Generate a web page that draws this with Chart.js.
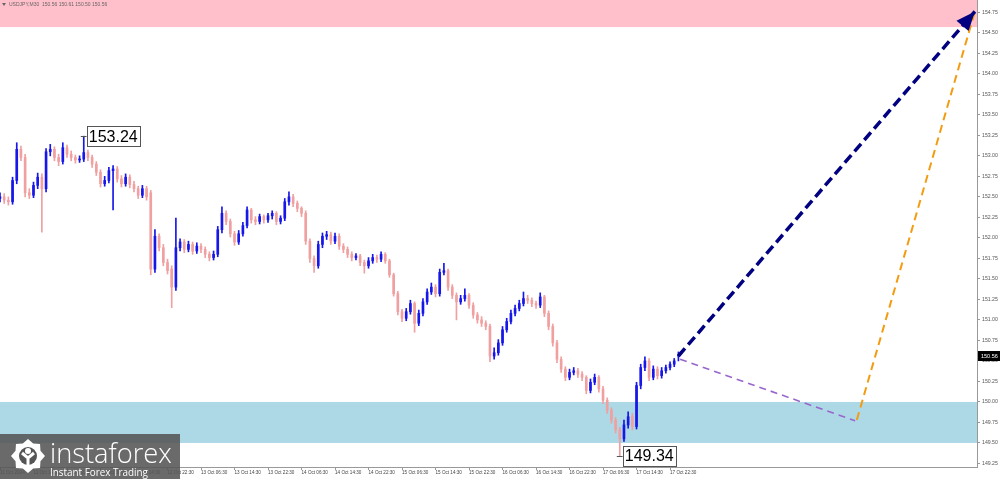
<!DOCTYPE html>
<html>
<head>
<meta charset="utf-8">
<script src="https://cdn.jsdelivr.net/npm/chart.js@4.4.1/dist/chart.umd.min.js"></script>
<style>
  html, body { margin: 0; padding: 0; background: #fff; }
  #wrap { width: 1000px; height: 479px; position: relative; }
</style>
</head>
<body>
<div id="wrap"><canvas id="chart"></canvas></div>
<script>
// USDJPY M30 candles (bar index 0 = 11 Oct 06:30)
const opens = [
  152.48,152.50,152.46,152.44,152.70,153.08,152.98,152.55,152.52,152.64,
  152.74,152.60,153.05,153.08,152.98,152.93,153.10,153.02,152.98,152.95,
  152.96,153.04,152.98,152.90,152.80,152.66,152.70,152.82,152.84,152.72,
  152.66,152.74,152.65,152.60,152.52,152.60,152.55,151.62,152.02,151.88,
  151.70,151.62,151.40,151.88,151.95,151.86,151.92,151.84,151.90,151.86,
  151.80,151.76,151.80,152.10,152.30,152.20,152.05,151.95,152.05,152.15,
  152.34,152.22,152.20,152.26,152.22,152.27,152.30,152.20,152.24,152.44,
  152.50,152.42,152.36,152.30,151.96,151.75,151.66,151.92,152.02,152.04,
  151.96,152.02,151.90,151.86,151.80,151.76,151.78,151.70,151.66,151.72,
  151.76,151.74,151.80,151.72,151.55,151.32,151.10,151.02,151.10,151.20,
  150.96,151.08,151.22,151.34,151.40,151.32,151.58,151.60,151.40,151.30,
  151.22,151.26,151.30,151.18,151.06,151.00,150.96,150.92,150.56,150.60,
  150.72,150.88,150.98,151.08,151.14,151.20,151.26,151.24,151.20,151.18,
  151.28,151.08,150.92,150.72,150.52,150.40,150.30,150.36,150.38,150.34,
  150.30,150.14,150.24,150.30,150.16,150.02,149.90,149.78,149.66,149.55,
  149.72,149.82,149.70,150.20,150.42,150.50,150.30,150.40,150.32,150.38,
  150.42,150.46,150.56
];
const highs = [
  152.55,152.54,152.50,152.74,153.16,153.12,153.02,152.60,152.68,152.79,
  152.78,153.09,153.14,153.11,153.02,153.16,153.13,153.06,153.01,153.00,
  153.24,153.07,153.01,152.93,152.83,152.75,152.86,152.88,152.87,152.76,
  152.78,152.77,152.69,152.63,152.64,152.63,152.58,152.10,152.05,151.92,
  151.74,151.66,152.24,151.99,151.98,151.96,151.95,151.94,151.93,151.89,
  151.83,151.84,152.14,152.38,152.33,152.23,152.08,152.09,152.19,152.38,
  152.36,152.26,152.29,152.28,152.30,152.33,152.32,152.27,152.48,152.56,
  152.53,152.45,152.38,152.33,151.99,151.78,151.96,152.06,152.08,152.07,
  152.06,152.05,151.93,151.89,151.83,151.81,151.80,151.73,151.76,151.80,
  151.79,151.83,151.82,151.74,151.57,151.35,151.13,151.14,151.24,151.22,
  151.12,151.26,151.38,151.45,151.43,151.62,151.69,151.62,151.43,151.33,
  151.30,151.38,151.32,151.21,151.09,151.04,150.99,150.95,150.66,150.76,
  150.92,151.02,151.12,151.18,151.24,151.34,151.30,151.27,151.23,151.33,
  151.30,151.11,150.95,150.75,150.55,150.43,150.40,150.42,150.41,150.37,
  150.32,150.28,150.34,150.32,150.19,150.05,149.93,149.81,149.69,149.78,
  149.88,149.86,150.24,150.46,150.55,150.53,150.44,150.43,150.42,150.45,
  150.49,150.53,150.61
];
const lows = [
  152.44,152.42,152.40,152.41,152.66,152.94,152.50,152.48,152.49,152.60,
  152.07,152.56,153.00,152.94,152.88,152.90,152.98,152.94,152.91,152.92,
  152.93,152.94,152.86,152.76,152.62,152.63,152.67,152.34,152.68,152.62,
  152.63,152.61,152.56,152.48,152.49,152.46,151.55,151.58,151.84,151.66,
  151.56,151.15,151.36,151.84,151.82,151.83,151.80,151.81,151.82,151.76,
  151.72,151.73,151.77,152.06,152.16,152.01,151.91,151.92,152.02,152.12,
  152.18,152.16,152.17,152.18,152.19,152.23,152.16,152.17,152.21,152.40,
  152.38,152.32,152.26,151.92,151.70,151.58,151.63,151.88,151.98,151.92,
  151.93,151.86,151.82,151.76,151.72,151.73,151.66,151.57,151.63,151.69,
  151.70,151.71,151.69,151.52,151.29,151.06,150.98,150.99,151.07,150.85,
  150.93,151.05,151.19,151.31,151.28,151.29,151.55,151.36,151.26,151.00,
  151.19,151.23,151.14,151.02,150.96,150.92,150.88,150.49,150.52,150.57,
  150.69,150.85,150.95,151.05,151.11,151.17,151.20,151.16,151.14,151.15,
  151.04,150.88,150.68,150.48,150.36,150.26,150.27,150.33,150.30,150.26,
  150.10,150.11,150.21,150.12,149.98,149.86,149.74,149.62,149.34,149.52,
  149.68,149.66,149.67,150.16,150.38,150.26,150.27,150.28,150.29,150.35,
  150.39,150.43,150.50
];
const closes = [
  152.50,152.46,152.44,152.70,153.08,152.98,152.55,152.52,152.64,152.74,
  152.60,153.05,153.08,152.98,152.93,153.10,153.02,152.98,152.95,152.96,
  153.04,152.98,152.90,152.80,152.66,152.70,152.82,152.84,152.72,152.66,
  152.74,152.65,152.60,152.52,152.60,152.50,151.62,152.02,151.88,151.70,
  151.60,151.40,151.88,151.95,151.86,151.92,151.84,151.90,151.86,151.80,
  151.76,151.80,152.10,152.30,152.20,152.05,151.95,152.05,152.15,152.34,
  152.22,152.20,152.26,152.22,152.27,152.30,152.20,152.24,152.44,152.50,
  152.42,152.36,152.30,151.96,151.75,151.66,151.92,152.02,152.04,151.96,
  152.02,151.90,151.86,151.80,151.76,151.78,151.70,151.66,151.72,151.76,
  151.74,151.80,151.72,151.55,151.32,151.10,151.02,151.10,151.20,150.96,
  151.08,151.22,151.34,151.40,151.32,151.58,151.60,151.40,151.30,151.22,
  151.26,151.30,151.18,151.06,151.00,150.96,150.92,150.56,150.60,150.72,
  150.88,150.98,151.08,151.14,151.20,151.26,151.24,151.20,151.18,151.28,
  151.08,150.92,150.72,150.52,150.40,150.30,150.36,150.38,150.34,150.30,
  150.14,150.24,150.30,150.16,150.02,149.90,149.78,149.66,149.55,149.72,
  149.82,149.70,150.20,150.42,150.50,150.30,150.40,150.32,150.38,150.42,
  150.46,150.50,150.56
];

const tickLabels = [
  '11 Oct 2024','11 Oct 14:30','11 Oct 22:30',
  '12 Oct 06:30','12 Oct 14:30','12 Oct 22:30',
  '13 Oct 06:30','13 Oct 14:30','13 Oct 22:30',
  '14 Oct 06:30','14 Oct 14:30','14 Oct 22:30',
  '15 Oct 06:30','15 Oct 14:30','15 Oct 22:30',
  '16 Oct 06:30','16 Oct 14:30','16 Oct 22:30',
  '17 Oct 06:30','17 Oct 14:30','17 Oct 22:30'
];
const barsPerLabel = 8;
const priceTicks = [149.25,149.50,149.75,150.00,150.25,150.50,150.75,151.00,151.25,151.50,151.75,
  152.00,152.25,152.50,152.75,153.00,153.25,153.50,153.75,154.00,154.25,154.50,154.75];

// zones
const resistanceZone = [154.57, 155.5];
const supportZone = [149.50, 150.00];

// forecast paths (x in bars, y in price)
const mainX = [162, 232.8];
const mainY = [150.56, 154.76];
const pullX = [162.4, 204.2];
const pullY = [150.52, 149.77];
const rallyX = [204.6, 232.8];
const rallyY = [149.78, 154.76];

const header = 'USDJPY,M30  150.56 150.61 150.50 150.56';

const bull = '#1717e8';
const bear = '#f0a0a0';
const candleColor = c => closes[c.dataIndex] >= opens[c.dataIndex] ? bull : bear;
const idx = closes.map((_, i) => i);

const zonesPlugin = {
  id: 'zones',
  beforeDatasetsDraw(chart) {
    const { ctx, chartArea: a, scales: { y } } = chart;
    ctx.save();
    const top1 = Math.max(a.top, y.getPixelForValue(resistanceZone[1]));
    ctx.fillStyle = '#ffc0cb';
    ctx.fillRect(a.left, top1, a.width, y.getPixelForValue(resistanceZone[0]) - top1);
    const top2 = y.getPixelForValue(supportZone[1]);
    ctx.fillStyle = '#add8e6';
    ctx.fillRect(a.left, top2, a.width, y.getPixelForValue(supportZone[0]) - top2);
    ctx.restore();
  }
};

function priceBox(ctx, x, y, text) {
  ctx.font = '16px "Liberation Sans"';
  const w = ctx.measureText(text).width + 4;
  ctx.strokeStyle = '#555';
  ctx.lineWidth = 1;
  ctx.beginPath();
  ctx.moveTo(x - 3, Math.round(y) + 0.5);
  ctx.lineTo(x + 3, Math.round(y) + 0.5);
  ctx.stroke();
  ctx.fillStyle = '#fff';
  ctx.fillRect(x + 3, y - 10, w, 20);
  ctx.strokeRect(Math.round(x + 3) + 0.5, Math.round(y - 10) + 0.5, Math.round(w), 20);
  ctx.fillStyle = '#000';
  ctx.textBaseline = 'middle';
  ctx.textAlign = 'left';
  ctx.fillText(text, x + 5, y + 1);
}

const overlayPlugin = {
  id: 'overlay',
  afterDatasetsDraw(chart) {
    const { ctx, scales: { x, y } } = chart;
    ctx.save();
    // arrow head on main forecast
    const pts = chart.getDatasetMeta(2).data;
    const p0 = pts[0], p1 = pts[1];
    const ang = Math.atan2(p1.y - p0.y, p1.x - p0.x);
    const L = 19, W = 8;
    const bx = p1.x - L * Math.cos(ang), by = p1.y - L * Math.sin(ang);
    ctx.fillStyle = '#000080';
    ctx.beginPath();
    ctx.moveTo(p1.x, p1.y);
    ctx.lineTo(bx + W * Math.sin(ang), by - W * Math.cos(ang));
    ctx.lineTo(bx - W * Math.sin(ang), by + W * Math.cos(ang));
    ctx.closePath();
    ctx.fill();

    // high / low labels
    const hi = highs.indexOf(Math.max(...highs));
    const lo = lows.indexOf(Math.min(...lows));
    priceBox(ctx, x.getPixelForValue(hi), y.getPixelForValue(highs[hi]), highs[hi].toFixed(2));
    priceBox(ctx, x.getPixelForValue(lo), y.getPixelForValue(lows[lo]), lows[lo].toFixed(2));
    ctx.restore();
  },
  afterDraw(chart) {
    const { ctx, chartArea: a, scales: { y } } = chart;
    ctx.save();
    // header
    ctx.fillStyle = '#666';
    ctx.beginPath();
    ctx.moveTo(2, 3); ctx.lineTo(6, 3); ctx.lineTo(4, 6); ctx.closePath(); ctx.fill();
    ctx.font = '5px "Liberation Sans"';
    ctx.textBaseline = 'middle';
    ctx.fillText(header, 9, 5);

    // current price tag
    const last = closes[closes.length - 1];
    const py = y.getPixelForValue(last);
    ctx.fillStyle = '#000';
    ctx.fillRect(a.right + 1, py - 5, chart.width - a.right - 1, 10);
    ctx.fillStyle = '#fff';
    ctx.font = '5.5px "Liberation Sans"';
    ctx.fillText(last.toFixed(2), a.right + 4, py);

    // watermark
    ctx.fillStyle = 'rgba(85,85,85,0.88)';
    ctx.fillRect(0, 434, 180, 45);
    const cx = 28, cy = 456;
    ctx.fillStyle = '#fff';
    ctx.beginPath();
    for (let k = 0; k < 16; k++) {
      const r = k % 2 === 0 ? 17 : 13.5;
      const t = k * Math.PI / 8;
      ctx.lineTo(cx + r * Math.cos(t), cy + r * Math.sin(t));
    }
    ctx.closePath();
    ctx.fill();
    ctx.fillStyle = 'rgb(85,85,85)';
    ctx.beginPath(); ctx.arc(cx, cy, 9, 0, Math.PI * 2); ctx.fill();
    ctx.fillStyle = '#fff';
    ctx.beginPath(); ctx.arc(cx, cy - 5, 3, 0, Math.PI * 2); ctx.fill();
    ctx.strokeStyle = '#fff';
    ctx.lineWidth = 3;
    ctx.beginPath();
    ctx.moveTo(cx - 6, cy - 3); ctx.lineTo(cx, cy + 2); ctx.lineTo(cx + 6, cy - 3);
    ctx.moveTo(cx, cy + 2); ctx.lineTo(cx, cy + 14);
    ctx.stroke();

    ctx.fillStyle = '#fff';
    ctx.textBaseline = 'alphabetic';
    ctx.font = '300 32px "Open Sans"';
    let s = 32 * 122 / ctx.measureText('instaforex').width;
    ctx.font = `300 ${s}px "Open Sans"`;
    ctx.fillText('instaforex', 50, 463);
    ctx.font = '12px "Open Sans"';
    s = 12 * 98 / ctx.measureText('Instant Forex Trading').width;
    ctx.font = `${s}px "Open Sans"`;
    ctx.fillText('Instant Forex Trading', 50, 476);
    ctx.restore();
  }
};

new Chart(document.getElementById('chart'), {
  type: 'bar',
  data: {
    datasets: [
      {
        type: 'bar',
        data: idx.map(i => ({ x: i, y: [lows[i], highs[i]] })),
        backgroundColor: candleColor,
        barThickness: 1,
        grouped: false,
        order: 3
      },
      {
        type: 'bar',
        data: idx.map(i => ({ x: i, y: [opens[i], closes[i]] })),
        backgroundColor: candleColor,
        barThickness: 2,
        minBarLength: 1,
        grouped: false,
        order: 2
      },
      {
        type: 'line',
        data: mainX.map((v, i) => ({ x: v, y: mainY[i] })),
        borderColor: '#000080',
        borderWidth: 3.5,
        borderDash: [10, 5],
        pointRadius: 0,
        order: 0
      },
      {
        type: 'line',
        data: pullX.map((v, i) => ({ x: v, y: pullY[i] })),
        borderColor: '#9966cc',
        borderWidth: 1.6,
        borderDash: [7, 5],
        pointRadius: 0,
        order: 1
      },
      {
        type: 'line',
        data: rallyX.map((v, i) => ({ x: v, y: rallyY[i] })),
        borderColor: '#f39c12',
        borderWidth: 2,
        borderDash: [8, 5],
        pointRadius: 0,
        order: 1
      }
    ]
  },
  options: {
    responsive: true,
    maintainAspectRatio: false,
    animation: false,
    layout: { padding: 0 },
    plugins: { legend: { display: false }, tooltip: { enabled: false } },
    scales: {
      x: {
        type: 'linear',
        min: 0,
        max: 233.3,
        offset: false,
        afterBuildTicks: s => { s.ticks = tickLabels.map((_, k) => ({ value: k * barsPerLabel })); },
        ticks: {
          autoSkip: false,
          maxRotation: 0,
          align: 'start',
          padding: 0,
          color: '#444',
          font: { size: 4.6, family: '"Liberation Sans"' },
          callback: (v, i) => tickLabels[i]
        },
        grid: { drawOnChartArea: false, offset: false, tickLength: 3, color: '#999' },
        border: { color: '#999' },
        afterFit: s => { s.height = 12; s.paddingLeft = 0; s.paddingRight = 0; }
      },
      y: {
        position: 'right',
        min: 149.207,
        max: 154.9,
        afterBuildTicks: s => { s.ticks = priceTicks.map(v => ({ value: v })); },
        ticks: {
          autoSkip: false,
          padding: 2,
          color: '#555',
          font: { size: 5.2, family: '"Liberation Sans"' },
          callback: v => v.toFixed(2)
        },
        grid: { drawOnChartArea: false, tickLength: 3, color: '#999' },
        border: { color: '#999' },
        afterFit: s => { s.width = 23; s.paddingTop = 0; s.paddingBottom = 0; }
      }
    }
  },
  plugins: [zonesPlugin, overlayPlugin]
});
</script>
</body>
</html>
